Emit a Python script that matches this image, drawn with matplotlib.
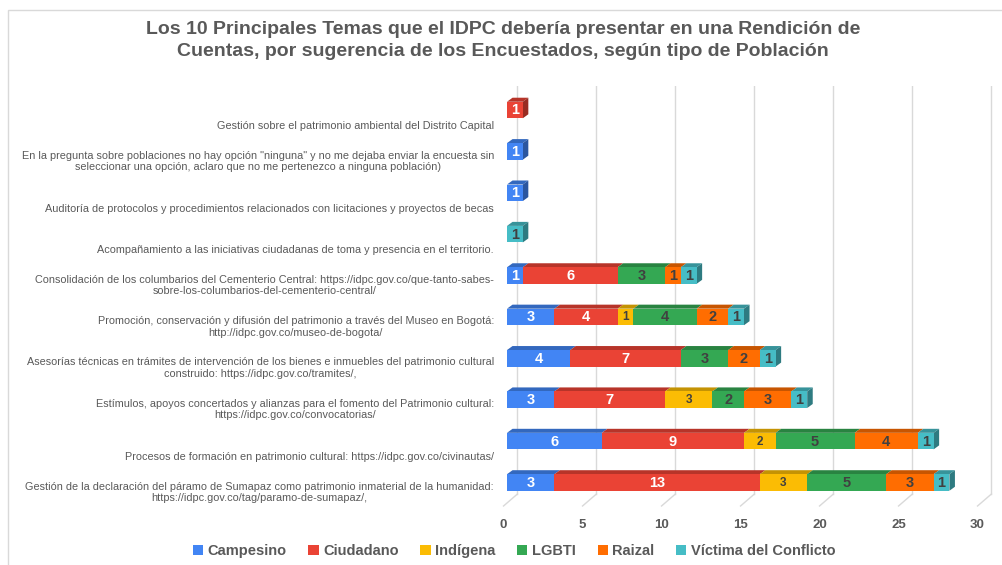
import numpy as np
import matplotlib.pyplot as plt
from matplotlib.patches import Polygon, Rectangle, Patch
from matplotlib import colors as mcolors

plt.rcParams['font.family'] = ['Liberation Sans', 'DejaVu Sans']

# categories from bottom to top
temas = [
    "Gestión de la declaración del páramo de Sumapaz como patrimonio inmaterial de la humanidad:\nhttps://idpc.gov.co/tag/paramo-de-sumapaz/,",
    "\nProcesos de formación en patrimonio cultural: https://idpc.gov.co/civinautas/",
    "Estímulos, apoyos concertados y alianzas para el fomento del Patrimonio cultural:\nhttps://idpc.gov.co/convocatorias/",
    "Asesorías técnicas en trámites de intervención de los bienes e inmuebles del patrimonio cultural\nconstruido: https://idpc.gov.co/tramites/,",
    "Promoción, conservación y difusión del patrimonio a través del Museo en Bogotá:\nhttp://idpc.gov.co/museo-de-bogota/",
    "Consolidación de los columbarios del Cementerio Central: https://idpc.gov.co/que-tanto-sabes-\nsobre-los-columbarios-del-cementerio-central/",
    "\nAcompañamiento a las iniciativas ciudadanas de toma y presencia en el territorio.",
    "\nAuditoría de protocolos y procedimientos relacionados con licitaciones y proyectos de becas",
    "En la pregunta sobre poblaciones no hay opción \"ninguna\" y no me dejaba enviar la encuesta sin\nseleccionar una opción, aclaro que no me pertenezco a ninguna población)",
    "\nGestión sobre el patrimonio ambiental del Distrito Capital",
]

poblaciones = ["Campesino", "Ciudadano", "Indígena", "LGBTI", "Raizal", "Víctima del Conflicto"]
campesino = [3, 6, 3, 4, 3, 1, 0, 1, 1, 0]
ciudadano = [13, 9, 7, 7, 4, 6, 0, 0, 0, 1]
indigena  = [3, 2, 3, 0, 1, 0, 0, 0, 0, 0]
lgbti     = [5, 5, 2, 3, 4, 3, 0, 0, 0, 0]
raizal    = [3, 4, 3, 2, 2, 1, 0, 0, 0, 0]
victima   = [1, 1, 1, 1, 1, 1, 1, 0, 0, 0]
series = [campesino, ciudadano, indigena, lgbti, raizal, victima]

colores = ["#4285F4", "#EA4335", "#FBBC04", "#34A853", "#FF6D01", "#46BDC6"]
txt_col = ["white", "white", "#404040", "#404040", "#404040", "#404040"]
txt_size = [10.5, 10.5, 8.5, 10.5, 10.5, 10.5]
gris = "#595959"

def oscuro(c, f):
    r, g, b = mcolors.to_rgb(c)
    return (r * f, g * f, b * f)

fig = plt.figure(figsize=(10.02, 5.65), dpi=100)
ax = fig.add_axes([499.1 / 1002, 59 / 565, 497.7 / 1002, 420 / 565])
ax.set_xlim(-0.5, 31)
ax.set_ylim(-0.568, 9.58)
for s in ax.spines.values():
    s.set_visible(False)
ax.set_yticks([])

# back gridlines + floor
gx, fx = 0.66, -0.22
yb, yf = -0.278, -0.568
ticks = [0, 5, 10, 15, 20, 25, 30]
for t in ticks:
    ax.plot([t + gx, t + gx], [yb, 9.58], color="#d9d9d9", lw=1, zorder=1)
    ax.plot([t + gx, t + fx], [yb, yf], color="#d9d9d9", lw=1, zorder=1, clip_on=False)
ax.set_xticks([t + fx for t in ticks])
ax.set_xticklabels([str(t) for t in ticks], fontsize=9.5, fontweight="bold", color=gris)
ax.tick_params(axis="x", length=0, pad=9)

h = 0.4
dx, dy = 0.35, 0.097
y = np.arange(len(temas))
for i in range(len(temas)):
    left = 0
    last = max(k for k in range(len(series)) if series[k][i] > 0)
    for k, vals in enumerate(series):
        w = vals[i]
        if w == 0:
            continue
        c = colores[k]
        ax.add_patch(Rectangle((left, y[i] - h / 2), w, h, facecolor=c, edgecolor="none", zorder=3))
        top = [(left, y[i] + h / 2), (left + w, y[i] + h / 2),
               (left + w + dx, y[i] + h / 2 + dy), (left + dx, y[i] + h / 2 + dy)]
        ax.add_patch(Polygon(top, closed=True, facecolor=oscuro(c, 0.78), edgecolor="none", zorder=2))
        if k == last:
            side = [(left + w, y[i] - h / 2), (left + w + dx, y[i] - h / 2 + dy),
                    (left + w + dx, y[i] + h / 2 + dy), (left + w, y[i] + h / 2)]
            ax.add_patch(Polygon(side, closed=True, facecolor=oscuro(c, 0.65), edgecolor="none", zorder=2))
        ax.text(left + w / 2, y[i] - 0.01, str(w), ha="center", va="center", color=txt_col[k],
                fontsize=txt_size[k], fontweight="bold", zorder=4)
        left += w

    ax.text(-0.82, y[i] - 0.24, temas[i], ha="right", va="center", multialignment="center",
            fontsize=7.85, color=gris, linespacing=1.2, clip_on=False)

fig.suptitle("Los 10 Principales Temas que el IDPC debería presentar en una Rendición de\n"
             "Cuentas, por sugerencia de los Encuestados, según tipo de Población",
             x=0.502, y=1 - 21 / 565, fontsize=14, fontweight="bold", color=gris, linespacing=1.35)

handles = [Patch(facecolor=c, edgecolor="none") for c in colores]
leg = fig.legend(handles, poblaciones, loc="center", bbox_to_anchor=(0.513, 1 - 551 / 565), ncol=6,
                 frameon=False, handlelength=0.7, handleheight=0.7, handletextpad=0.3,
                 columnspacing=1.5, prop={"size": 10.5, "weight": "bold"})
for t in leg.get_texts():
    t.set_color(gris)

fig.patches.append(Rectangle((8 / 1002, -0.1), 1.2, 1.1 - 10 / 565, transform=fig.transFigure,
                             fill=False, edgecolor="#d9d9d9", lw=1))

fig.savefig("out.png", dpi=100)
